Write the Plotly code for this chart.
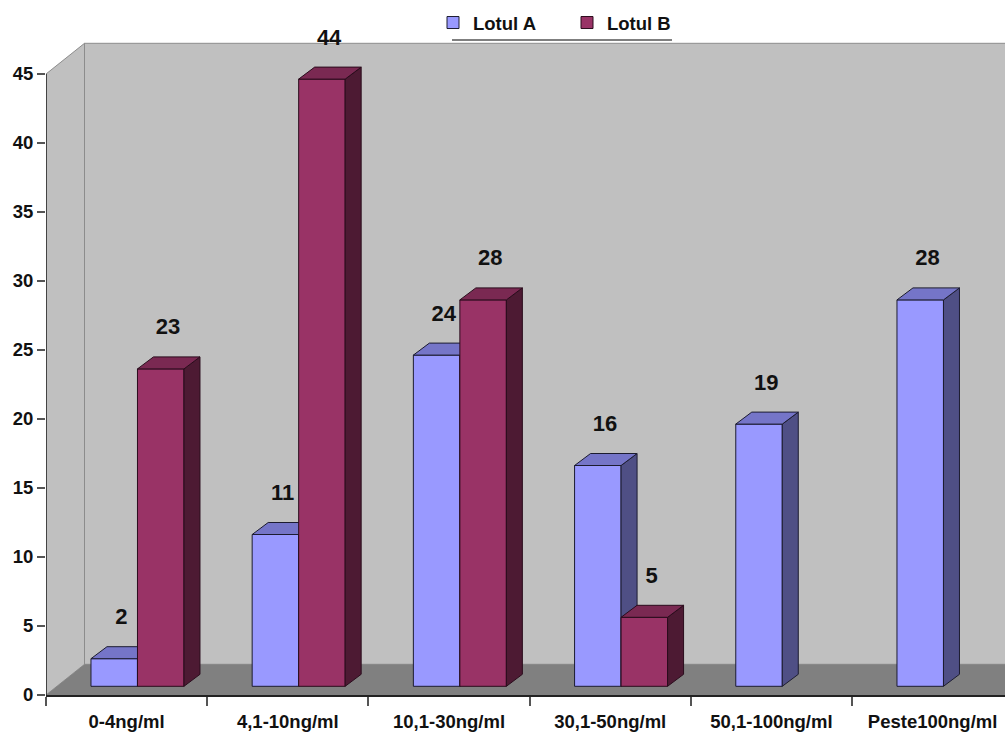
import plotly.graph_objects as go

categories = ["0-4ng/ml", "4,1-10ng/ml", "10,1-30ng/ml", "30,1-50ng/ml", "50,1-100ng/ml", "Peste100ng/ml"]
lot_a = [2, 11, 24, 16, 19, 28]
lot_b = [23, 44, 28, 5, None, None]
y_ticks = [0, 5, 10, 15, 20, 25, 30, 35, 40, 45]

FONT = "Liberation Sans"
INK = "#111111"

# Pixel scale of the plot, used to express the oblique projection in axis units
CAT_PX = 161.2
UNIT_PX = 13.8
PLOT_W = 959
PLOT_H = 695
X_RANGE = [-0.5, -0.5 + PLOT_W / CAT_PX]
Y_RANGE = [0, PLOT_H / UNIT_PX]

# Oblique depth of the bars and of the chart box
BAR_DX = 16 / CAT_PX
BAR_DY = 12 / UNIT_PX
BOX_DX = 38.5 / CAT_PX
BOX_DY = 30.7 / UNIT_PX
BAR_BASE = 8.7 / UNIT_PX
BAR_W = 46.5 / CAT_PX
OFFSET_A = -0.221
OFFSET_B = OFFSET_A + BAR_W
LABEL_GAP = 2.9


def faces(values, offset):
    """Outline the side and top faces of each bar from its value."""
    side_x, side_y, top_x, top_y = [], [], [], []
    for i, v in enumerate(values):
        if v is None:
            continue
        left = i + offset
        right = left + BAR_W
        top = BAR_BASE + v
        side_x += [right, right + BAR_DX, right + BAR_DX, right, right, None]
        side_y += [BAR_BASE, BAR_BASE + BAR_DY, top + BAR_DY, top, BAR_BASE, None]
        top_x += [left, left + BAR_DX, right + BAR_DX, right, left, None]
        top_y += [top, top + BAR_DY, top + BAR_DY, top, top, None]
    return side_x, side_y, top_x, top_y


def add_series(fig, name, values, offset, front, top_col, side_col, edge, xa, ya):
    fig.add_trace(go.Bar(
        x=list(range(len(values))), y=values, base=BAR_BASE, name=name,
        width=BAR_W, offset=offset,
        marker=dict(color=front, line=dict(color=edge, width=1)),
        xaxis=xa, yaxis=ya,
    ))
    side_x, side_y, top_x, top_y = faces(values, offset)
    for xs, ys, col in ((side_x, side_y, side_col), (top_x, top_y, top_col)):
        fig.add_trace(go.Scatter(
            x=xs, y=ys, mode="lines", fill="toself", fillcolor=col,
            line=dict(color=edge, width=1), showlegend=False, hoverinfo="skip",
            cliponaxis=False, xaxis=xa, yaxis=ya,
        ))


fig = go.Figure()

# Series B lives on an overlaying subplot so its bars cover the faces of series A
add_series(fig, "Lotul A", lot_a, OFFSET_A, "#9999FF", "#7575C8", "#4F4F85", "#1c1c30", "x", "y")
add_series(fig, "Lotul B", lot_b, OFFSET_B, "#993366", "#7A2952", "#4D1A33", "#2a0c1c", "x2", "y2")

# Value axis line stops at the last tick
fig.add_trace(go.Scatter(
    x=[X_RANGE[0], X_RANGE[0]], y=[0, y_ticks[-1]], mode="lines",
    line=dict(color="#222222", width=1.5), showlegend=False, hoverinfo="skip", cliponaxis=False,
))

# Value labels above the bars
for values, offset in ((lot_a, OFFSET_A), (lot_b, OFFSET_B)):
    shown = [(i, v) for i, v in enumerate(values) if v is not None]
    fig.add_trace(go.Scatter(
        x=[i + offset + BAR_W / 2 + BAR_DX / 2 - 0.005 for i, _ in shown],
        y=[BAR_BASE + v + LABEL_GAP for _, v in shown],
        text=[str(v) for _, v in shown],
        mode="text", textposition="middle center",
        textfont=dict(family=FONT, size=22, color=INK, weight="bold"),
        showlegend=False, hoverinfo="skip", cliponaxis=False,
        xaxis="x2", yaxis="y2",
    ))

# Chart box: back wall, side wall and floor
box_shapes = [
    dict(type="path", layer="below", xref="x", yref="y",
         path=f"M {X_RANGE[0]+BOX_DX} {BOX_DY} L {X_RANGE[1]+1} {BOX_DY} "
              f"L {X_RANGE[1]+1} {y_ticks[-1]+BOX_DY} L {X_RANGE[0]+BOX_DX} {y_ticks[-1]+BOX_DY} Z",
         fillcolor="#C0C0C0", line=dict(color="#8c8c8c", width=1)),
    dict(type="path", layer="below", xref="x", yref="y",
         path=f"M {X_RANGE[0]} 0 L {X_RANGE[0]+BOX_DX} {BOX_DY} "
              f"L {X_RANGE[0]+BOX_DX} {y_ticks[-1]+BOX_DY} L {X_RANGE[0]} {y_ticks[-1]} Z",
         fillcolor="#C0C0C0", line=dict(color="#8c8c8c", width=1)),
    dict(type="path", layer="below", xref="x", yref="y",
         path=f"M {X_RANGE[0]} 0 L {X_RANGE[1]+1} 0 L {X_RANGE[1]+1} {BOX_DY} "
              f"L {X_RANGE[0]+BOX_DX} {BOX_DY} Z",
         fillcolor="#808080", line=dict(width=0)),
    # Rule under the legend
    dict(type="line", xref="paper", yref="paper",
         x0=(452 - 46) / PLOT_W, x1=(672 - 46) / PLOT_W,
         y0=(695 - 40) / PLOT_H, y1=(695 - 40) / PLOT_H,
         line=dict(color="#555555", width=1.5)),
]

fig.update_layout(
    width=1005, height=732,
    margin=dict(l=46, r=0, t=0, b=37),
    paper_bgcolor="white", plot_bgcolor="white",
    barmode="overlay",
    shapes=box_shapes,
    showlegend=True,
    legend=dict(
        orientation="h", x=(433 - 46) / PLOT_W, y=(695 - 4) / PLOT_H,
        xanchor="left", yanchor="top",
        entrywidth=89, entrywidthmode="pixels",
        bgcolor="rgba(0,0,0,0)", traceorder="normal",
        font=dict(family=FONT, size=18.5, color=INK, weight="bold"),
    ),
    xaxis=dict(
        automargin=False,
        range=X_RANGE, tickmode="array", tickvals=list(range(len(categories))), ticktext=categories,
        showgrid=False, zeroline=False, showline=True, linecolor="#222222", linewidth=1.5,
        ticks="outside", ticklen=0, tickcolor="rgba(0,0,0,0)", ticklabelstandoff=9,
        tickfont=dict(family=FONT, size=18.5, color=INK, weight="bold"),
        minor=dict(tickmode="array", tickvals=[i - 0.5 for i in range(len(categories) + 1)],
                   ticks="outside", ticklen=9, tickcolor="#555555", tickwidth=1.5, showgrid=False),
    ),
    yaxis=dict(
        automargin=False,
        range=Y_RANGE, tickmode="array", tickvals=y_ticks,
        showgrid=False, zeroline=False, showline=False,
        ticks="outside", ticklen=8, tickcolor="#555555", tickwidth=1.5,
        tickfont=dict(family=FONT, size=18.5, color=INK, weight="bold"),
    ),
    xaxis2=dict(range=X_RANGE, overlaying="x", visible=False, anchor="y2"),
    yaxis2=dict(range=Y_RANGE, overlaying="y", visible=False, anchor="x2"),
)

fig.write_html("out.html")
